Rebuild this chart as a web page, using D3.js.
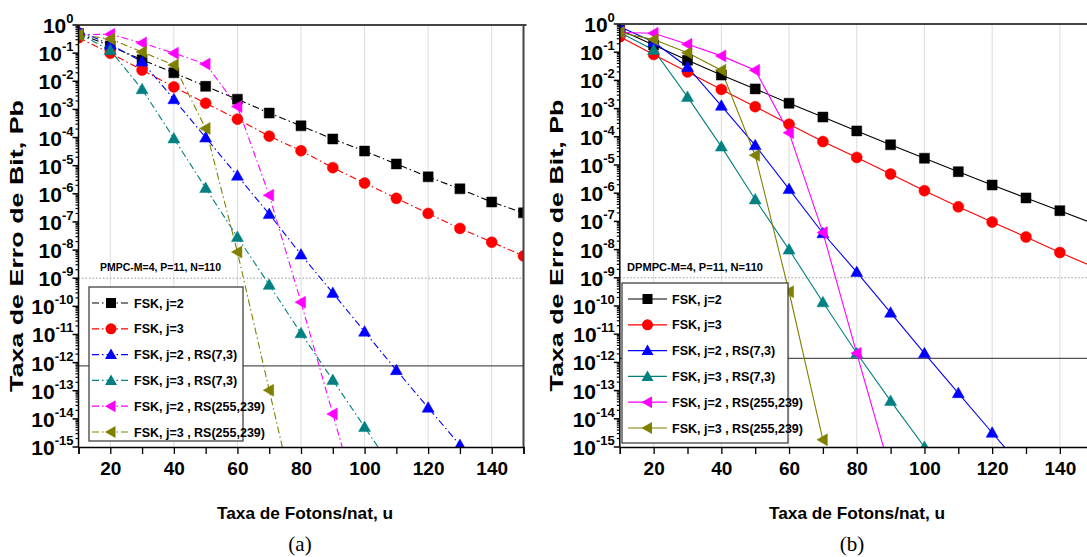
<!DOCTYPE html>
<html><head><meta charset="utf-8">
<script src="https://cdn.jsdelivr.net/npm/d3@7"></script>
<style>
body{margin:0;background:#fff;}
text{font-family:"Liberation Sans",Arial,sans-serif;}
text.serif{font-family:"Liberation Serif","Times New Roman",serif;}
</style></head>
<body><svg id="c" width="1087" height="557"></svg>
<script>
const xValues = [10,20,30,40,50,60,70,80,90,100,110,120,130,140,150];
const seriesNames = ["FSK, j=2","FSK, j=3","FSK, j=2 , RS(7,3)","FSK, j=3 , RS(7,3)","FSK, j=2 , RS(255,239)","FSK, j=3 , RS(255,239)"];
const seriesColors = ["#000000","#ff0000","#0000ff","#008080","#ff00ff","#808000"];
const seriesMarkers = ["square","circle","triUp","triUp","triLeft","triLeft"];
const xTicks = [20,40,60,80,100,120,140];
const yExponents = [0,-1,-2,-3,-4,-5,-6,-7,-8,-9,-10,-11,-12,-13,-14,-15];

// Panel (a) PMPC
const a_fsk2 = [0.5,0.18,0.058,0.02,6.6e-3,2.3e-3,7.4e-4,2.6e-4,8.9e-5,3.3e-5,1.15e-5,4.0e-6,1.5e-6,5.1e-7,2.1e-7];
const a_fsk3 = [0.35,0.1,0.025,6.3e-3,1.66e-3,4.5e-4,1.12e-4,3.4e-5,8.5e-6,2.4e-6,6.9e-7,2.0e-7,5.9e-8,1.9e-8,6.2e-9];
const a_fsk2rs73 = [0.63,0.2,0.05,2.3e-3,1.0e-4,4.4e-6,1.9e-7,6.9e-9,3.0e-10,1.26e-11,5.4e-13,2.5e-14,1.17e-15];
const a_fsk3rs73 = [0.5,0.126,5.2e-3,9.3e-5,1.6e-6,2.9e-8,5.8e-10,1.1e-11,2.4e-13,5.1e-15,1.1e-16];
const a_fsk2rs255 = [0.45,0.47,0.23,0.1,0.041,1.26e-3,8.9e-7,1.4e-10,1.5e-14,1.6e-18];
const a_fsk3rs255 = [0.45,0.32,0.11,0.038,2.1e-4,8.5e-9,1.05e-13,1.3e-18];
const a_refDotted = 1e-9, a_refSolid = 7.6e-13;

// Panel (b) DPMPC
const b_fsk2 = [0.63,0.18,0.052,0.0155,5.0e-3,1.55e-3,5.0e-4,1.62e-4,5.2e-5,1.74e-5,5.8e-6,1.95e-6,6.8e-7,2.4e-7,8.3e-8];
const b_fsk3 = [0.35,0.083,0.02,4.8e-3,1.17e-3,2.8e-4,6.8e-5,1.86e-5,4.8e-6,1.23e-6,3.3e-7,9.5e-8,2.8e-8,7.9e-9,2.4e-9];
const b_fsk2rs73 = [0.8,0.23,0.03,1.26e-3,5.0e-5,1.4e-6,3.8e-8,1.6e-9,5.8e-11,2.1e-12,8.1e-14,3.2e-15,1.3e-16];
const b_fsk3rs73 = [0.5,0.12,2.6e-3,4.5e-5,6.0e-7,1.0e-8,1.35e-10,2.1e-12,4.3e-14,1.0e-15];
const b_fsk2rs255 = [0.5,0.47,0.19,0.074,0.023,1.4e-4,4.0e-8,2.1e-12,1.3e-16];
const b_fsk3rs255 = [0.5,0.28,0.095,0.023,2.2e-5,3.2e-10,1.8e-15];
const b_refDotted = 1e-9, b_refSolid = 1.4e-12;

const svg = d3.select("#c");

function drawPanel(cfg){
  const g = svg.append("g");
  const x = d3.scaleLinear().domain([10,150]).range([cfg.x0,cfg.x1]);
  const y = d3.scaleLog().domain([1,1e-15]).range([cfg.y0,cfg.y1]);
  const clipId = "clip"+cfg.id;
  svg.append("clipPath").attr("id",clipId).append("rect")
    .attr("x",cfg.x0).attr("y",cfg.y0).attr("width",cfg.x1-cfg.x0).attr("height",cfg.y1-cfg.y0);
  // grid
  g.selectAll(".grid").data(xTicks).join("line")
    .attr("x1",d=>x(d)).attr("x2",d=>x(d)).attr("y1",cfg.y0).attr("y2",cfg.y1)
    .attr("stroke","#dcdcdc").attr("stroke-width",1);
  // reference lines
  g.append("line").attr("x1",cfg.x0).attr("x2",cfg.x1).attr("y1",y(cfg.refDotted)).attr("y2",y(cfg.refDotted))
    .attr("stroke","#999").attr("stroke-dasharray","1.5,2");
  g.append("line").attr("x1",cfg.x0).attr("x2",cfg.x1).attr("y1",y(cfg.refSolid)).attr("y2",y(cfg.refSolid))
    .attr("stroke","#555").attr("stroke-width",1.2);
  // series
  const plot = g.append("g").attr("clip-path",`url(#${clipId})`);
  const line = d3.line().x((d,i)=>x(xValues[i])).y(d=>y(d));
  cfg.series.forEach((vals,k)=>{
    plot.append("path").attr("d",line(vals)).attr("fill","none")
      .attr("stroke",seriesColors[k]).attr("stroke-width",1.1)
      .attr("stroke-dasharray",cfg.dash||null);
  });
  cfg.series.forEach((vals,k)=>{
    vals.forEach((v,i)=>{
      plot.append("path").attr("d",marker(seriesMarkers[k]))
        .attr("transform",`translate(${x(xValues[i])},${y(v)})`)
        .attr("fill",seriesColors[k]).attr("stroke",seriesColors[k]).attr("stroke-width",0.5);
    });
  });
  // frame
  g.append("line").attr("x1",cfg.x0).attr("x2",cfg.x1+3).attr("y1",cfg.y0).attr("y2",cfg.y0).attr("stroke","#444").attr("stroke-width",2);
  g.append("line").attr("x1",cfg.x1).attr("x2",cfg.x1).attr("y1",cfg.y0).attr("y2",cfg.y1).attr("stroke","#444").attr("stroke-width",2);
  // y axis with minor ticks
  g.append("line").attr("x1",cfg.x0).attr("x2",cfg.x0).attr("y1",cfg.y0).attr("y2",cfg.y1).attr("stroke","#000").attr("stroke-width",1.5);
  const minor=[];
  yExponents.forEach(e=>{ if(e>-15){ for(let m=2;m<=9;m++) minor.push(m*Math.pow(10,e-1)); } });
  g.selectAll(".ymin").data(minor).join("line")
    .attr("x1",cfg.x0-3).attr("x2",cfg.x0).attr("y1",d=>y(d)).attr("y2",d=>y(d)).attr("stroke","#000").attr("stroke-width",1.2);
  g.selectAll(".ymaj").data(yExponents).join("line")
    .attr("x1",cfg.x0-6).attr("x2",cfg.x0).attr("y1",d=>y(Math.pow(10,d))).attr("y2",d=>y(Math.pow(10,d))).attr("stroke","#000").attr("stroke-width",1.5);
  yExponents.forEach(e=>{
    const t = g.append("text").attr("x",cfg.x0-5).attr("y",y(Math.pow(10,e))+8)
      .attr("text-anchor","end").attr("font-weight","bold").attr("font-size",21);
    t.append("tspan").text("10");
    t.append("tspan").attr("dy",-10).attr("font-size",13).text(String(e));
  });
  // x axis
  const xAxis = d3.axisBottom(x).tickValues(d3.range(10,151,10)).tickSize(7).tickFormat(d=>xTicks.includes(d)?d:"");
  const ax = g.append("g").attr("transform",`translate(0,${cfg.y1})`).call(xAxis);
  ax.select(".domain").attr("stroke","#000").attr("stroke-width",1.5);
  ax.selectAll(".tick line").attr("stroke","#000").attr("stroke-width",1.3);
  ax.selectAll(".tick text").attr("font-size",19).attr("font-weight","bold").attr("dy",18)
    .style("font-family",'"Liberation Sans",Arial,sans-serif');
  // titles
  g.append("text").attr("transform",`translate(${cfg.yTitleX},${(cfg.y0+cfg.y1)/2+10}) rotate(-90)`)
    .attr("text-anchor","middle").attr("font-weight","bold").attr("font-size",18)
    .attr("textLength",292).attr("lengthAdjust","spacingAndGlyphs").text("Taxa de Erro de Bit, Pb");
  g.append("text").attr("x",cfg.xTitleX).attr("y",519).attr("text-anchor","middle")
    .attr("font-weight","bold").attr("font-size",17).attr("textLength",176).attr("lengthAdjust","spacingAndGlyphs")
    .text("Taxa de Fotons/nat, u");
  g.append("text").attr("class","serif").attr("x",cfg.xTitleX-5).attr("y",551).attr("text-anchor","middle")
    .attr("font-size",21).text(cfg.label);
  // annotation
  g.append("text").attr("x",cfg.annX).attr("y",271).attr("font-weight","bold").attr("font-size",11.5)
    .attr("textLength",cfg.annW).attr("lengthAdjust","spacingAndGlyphs").text(cfg.ann);
  // legend
  const L = cfg.legend;
  g.append("rect").attr("x",L.x).attr("y",L.y).attr("width",L.w).attr("height",L.h)
    .attr("fill","#fff").attr("stroke","#333").attr("stroke-width",1.2);
  seriesNames.forEach((n,k)=>{
    const yy = L.y+16+k*25.8;
    g.append("line").attr("x1",L.lx0).attr("x2",L.lx1).attr("y1",yy).attr("y2",yy)
      .attr("stroke",seriesColors[k]).attr("stroke-width",1.2).attr("stroke-dasharray",cfg.dash||null);
    g.append("path").attr("d",marker(seriesMarkers[k])).attr("transform",`translate(${(L.lx0+L.lx1)/2},${yy})`)
      .attr("fill",seriesColors[k]);
    g.append("text").attr("x",L.tx).attr("y",yy+4.5).attr("font-weight","bold").attr("font-size",12.5).text(n);
  });
}

function marker(type){
  const s=6;
  if(type==="square") return `M${-5},${-5}h10v10h-10z`;
  if(type==="circle") return d3.symbol(d3.symbolCircle,95)();
  if(type==="triUp") return `M0,${-s}L${s},${s*0.75}L${-s},${s*0.75}Z`;
  if(type==="triLeft") return `M${-s},0L${s*0.75},${-s}L${s*0.75},${s}Z`;
}

drawPanel({id:"a",x0:78.5,x1:523.5,y0:25,y1:447,dash:"7,3,1.5,3",
  series:[a_fsk2,a_fsk3,a_fsk2rs73,a_fsk3rs73,a_fsk2rs255,a_fsk3rs255],
  refDotted:a_refDotted,refSolid:a_refSolid,yTitleX:23,xTitleX:305,label:"(a)",
  ann:"PMPC-M=4, P=11, N=110",annX:100,annW:121,
  legend:{x:89,y:287,w:154,h:154,lx0:92,lx1:130,tx:134}});
drawPanel({id:"b",x0:619.8,x1:1093.7,y0:24,y1:447,dash:null,
  series:[b_fsk2,b_fsk3,b_fsk2rs73,b_fsk3rs73,b_fsk2rs255,b_fsk3rs255],
  refDotted:b_refDotted,refSolid:b_refSolid,yTitleX:563,xTitleX:857,label:"(b)",
  ann:"DPMPC-M=4, P=11, N=110",annX:627,annW:136,
  legend:{x:622,y:283,w:166,h:160,lx0:628,lx1:667,tx:672}});
</script></body></html>
